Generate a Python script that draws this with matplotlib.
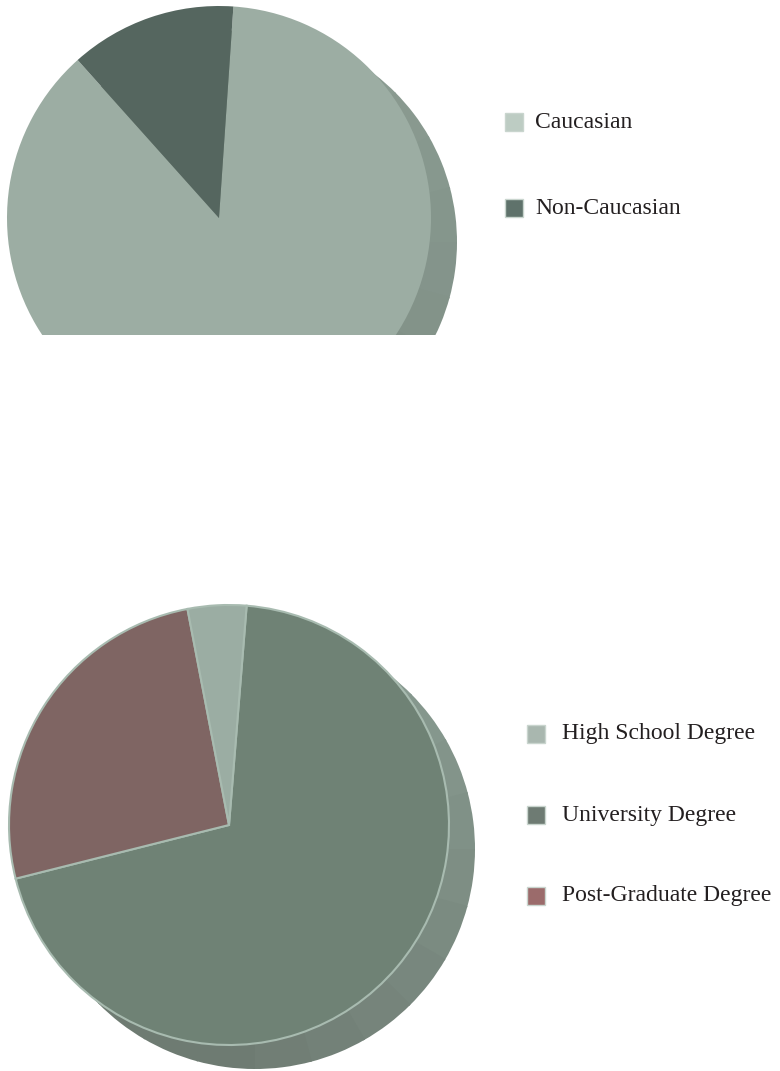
import numpy as np
import matplotlib.pyplot as plt
from matplotlib.colors import to_rgb
from matplotlib.patches import Rectangle, Wedge

# data (percent)
ethnicity_labels = ["Caucasian", "Non-Caucasian"]
ethnicity_values = [87.3, 12.7]
education_labels = ["High School Degree", "University Degree", "Post-Graduate Degree"]
education_values = [4.3, 69.8, 25.9]

# styles
eth_face = ["#9CADA3", "#55665F"]
eth_legend = ["#BDCCC3", "#5F726B"]
edu_face = ["#9BADA3", "#6F8275", "#7F6563"]
edu_legend = ["#A9B7AF", "#6E7B73", "#9B6B6B"]

W, H = 780, 1071
fig = plt.figure(figsize=(W / 100, H / 100), dpi=100)


def pixel_axes(x0, y0, x1, y1):
    """Axes covering a pixel box, data units = pixels (y up)."""
    return fig.add_axes([x0 / W, 1 - y1 / H, (x1 - x0) / W, (y1 - y0) / H])


def draw_side(ax, center, radius, light, dark, offset=(26, -24)):
    """Fake 3D side: an offset disk shaded from light (upper right) to dark (bottom)."""
    cx, cy = center[0] + offset[0], center[1] + offset[1]
    c0, c1 = np.array(to_rgb(light)), np.array(to_rgb(dark))
    steps = 24
    for k in range(steps):
        a0 = 60 - k * 15
        t = min(k / 10, 1.0)
        col = c0 * (1 - t) + c1 * t
        ax.add_patch(Wedge((cx, cy), radius, a0 - 15.5, a0, color=col, lw=0, zorder=0))


def draw_pie(ax, values, colors, center, radius, start, edge=None, lw=0):
    ax.pie(values, colors=colors, startangle=start, counterclock=False,
           center=center, radius=radius, frame=True,
           wedgeprops=dict(edgecolor=edge if edge else "none", linewidth=lw, clip_on=True))


# top pie (clipped at the bottom as in the original)
ax1 = pixel_axes(0, 0, 500, 335)
c1 = (219, H - 218)
draw_side(ax1, c1, 212, "#8A9B91", "#7B8A81")
draw_pie(ax1, ethnicity_values, eth_face, c1, 212, 86.1)
ax1.set_xlim(0, 500)
ax1.set_ylim(H - 335, H)
ax1.set_aspect("auto")
ax1.axis("off")

# bottom pie: clockwise from the top: University, Post-Graduate, High School
ax2 = pixel_axes(0, 590, 500, H)
c2 = (229, H - 825)
order = [1, 2, 0]
draw_side(ax2, c2, 220, "#889A90", "#6E7B72")
draw_pie(ax2, [education_values[i] for i in order], [edu_face[i] for i in order],
         c2, 220, 85.4, edge="#A8BBB0", lw=1.5)
ax2.set_xlim(0, 500)
ax2.set_ylim(0, H - 590)
ax2.set_aspect("auto")
ax2.axis("off")

# legends drawn on a full-figure overlay
ov = fig.add_axes([0, 0, 1, 1])
ov.set_xlim(0, W)
ov.set_ylim(H, 0)
ov.axis("off")

font = dict(family="Liberation Serif", fontsize=17, color="#231F20", va="center")

for i, (lab, col) in enumerate(zip(ethnicity_labels, eth_legend)):
    y = 122 + i * 86
    ov.add_patch(Rectangle((505, y - 9), 18, 18, facecolor=col, edgecolor="#C9D5CE", lw=1))
    ov.text(535, y, lab, **font)

for i, (lab, col) in enumerate(zip(education_labels, edu_legend)):
    y = 734 + i * 81
    ov.add_patch(Rectangle((527, y - 9), 18, 18, facecolor=col, edgecolor="#C9D5CE", lw=1))
    ov.text(562, y, lab, **font)

fig.savefig("out.png", dpi=100)
